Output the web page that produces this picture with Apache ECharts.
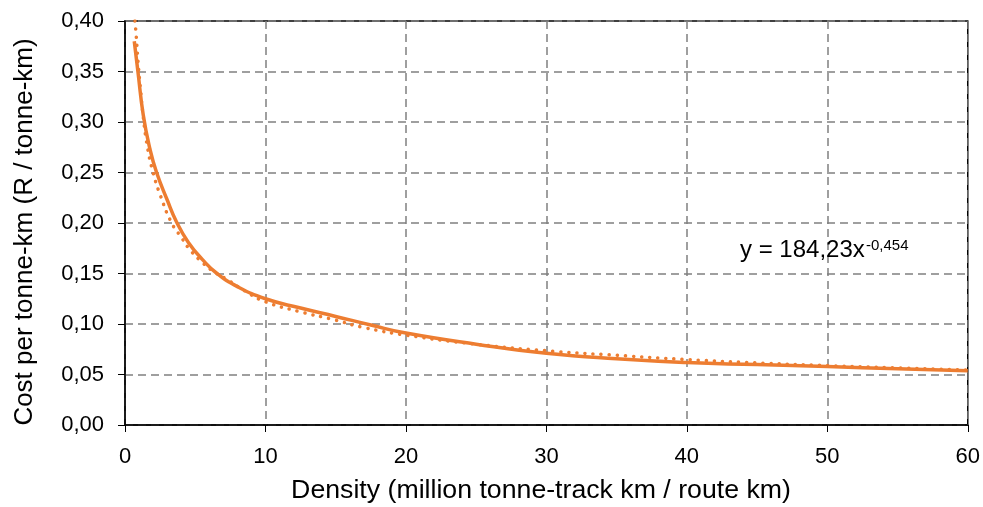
<!DOCTYPE html>
<html>
<head>
<meta charset="utf-8">
<script src="https://cdn.jsdelivr.net/npm/echarts@6/dist/echarts.min.js"></script>
<style>html,body{margin:0;padding:0;background:#fff}#c{width:983px;height:507px}</style>
</head>
<body>
<div id="c"></div>
<script>
// Observed cost curve (solid)
var actualX = [0.66, 0.92, 1.30, 1.78, 2.25, 3.0, 3.67, 4.5, 5.5, 6.55, 8.0, 10, 12.5, 15, 17.5, 20, 25, 30, 35, 40, 45, 50, 55, 60];
var actualY = [0.380, 0.350, 0.307, 0.273, 0.250, 0.223, 0.201, 0.181, 0.164, 0.150, 0.137, 0.125, 0.1158, 0.1075, 0.099, 0.091, 0.080, 0.071, 0.0655, 0.0618, 0.0598, 0.0578, 0.0557, 0.0536];
// Power trendline (dotted)
var trendX = [0.71, 0.80, 0.95, 1.1, 1.30, 1.6, 2.0, 2.5, 3.32, 4.0, 4.62, 5.5, 6.3, 7.28, 8.5, 10, 12.5, 14.8, 17, 20, 25, 30, 35, 40, 45, 50, 55, 60];
var trendY = [0.400, 0.385, 0.356, 0.333, 0.305, 0.275, 0.250, 0.228, 0.200, 0.186, 0.1735, 0.161, 0.152, 0.144, 0.133, 0.122, 0.112, 0.1045, 0.0965, 0.089, 0.080, 0.0735, 0.069, 0.0648, 0.0615, 0.0588, 0.0565, 0.0543];
var xTitle = 'Density (million tonne-track km / route km)';
var yTitle = 'Cost per tonne-km (R / tonne-km)';
var eqMain = 'y = 184,23x';
var eqExp = '-0,454';

function pairs(xs, ys){ return xs.map(function(x,i){return [x, ys[i]];}); }
var FF = '"Liberation Sans", Arial, sans-serif';
var orange = '#ED7D31';
var chart = echarts.init(document.getElementById('c'), null, {renderer:'canvas'});
chart.setOption({
  animation:false,
  grid:{left:125, right:15, top:21, bottom:82, show:true, borderColor:'#000', borderWidth:1.5, backgroundColor:'transparent'},
  xAxis:{type:'value', min:0, max:60, interval:10,
    axisLine:{show:true, onZero:false, lineStyle:{color:'#000', width:1.5}},
    axisTick:{show:true, length:7, lineStyle:{color:'#000'}},
    axisLabel:{fontFamily:FF, fontSize:22, color:'#000', margin:21},
    splitLine:{show:true, lineStyle:{color:'#808080', type:[8,5], width:1.5}}
  },
  yAxis:{type:'value', min:0, max:0.4, interval:0.05,
    axisLine:{show:true, onZero:false, lineStyle:{color:'#000', width:1.5}},
    axisTick:{show:true, length:7, lineStyle:{color:'#000'}},
    axisLabel:{fontFamily:FF, fontSize:22, color:'#000', margin:21,
      formatter:function(v){return v.toFixed(2).replace('.', ',');}},
    splitLine:{show:true, lineStyle:{color:'#808080', type:[8,5], width:1.5}}
  },
  series:[
    {type:'line', data:pairs(actualX, actualY), smooth:0.5, showSymbol:false, clip:true,
      lineStyle:{color:orange, width:3.5}, z:3},
    {type:'line', data:pairs(trendX, trendY), smooth:0.5, showSymbol:false, clip:true,
      lineStyle:{color:orange, width:3.5, type:[0.1, 8], cap:'round'}, z:4}
  ],
  graphic:[
    {type:'text', x:541, y:491, z:10,
      style:{text:xTitle, fill:'#000', font:'26.7px ' + FF, verticalAlign:'middle', align:'center'}},
    {type:'text', x:25, y:232, rotation:Math.PI/2, z:10,
      style:{text:yTitle, fill:'#000', font:'26px ' + FF, verticalAlign:'middle', align:'center'}},
    {type:'text', x:740, y:250, z:10,
      style:{text:eqMain, fill:'#000', font:'24px ' + FF, verticalAlign:'middle', align:'left'}},
    {type:'text', x:866, y:246, z:10,
      style:{text:eqExp, fill:'#000', font:'15px ' + FF, verticalAlign:'middle', align:'left'}}
  ]
});
</script>
</body>
</html>
